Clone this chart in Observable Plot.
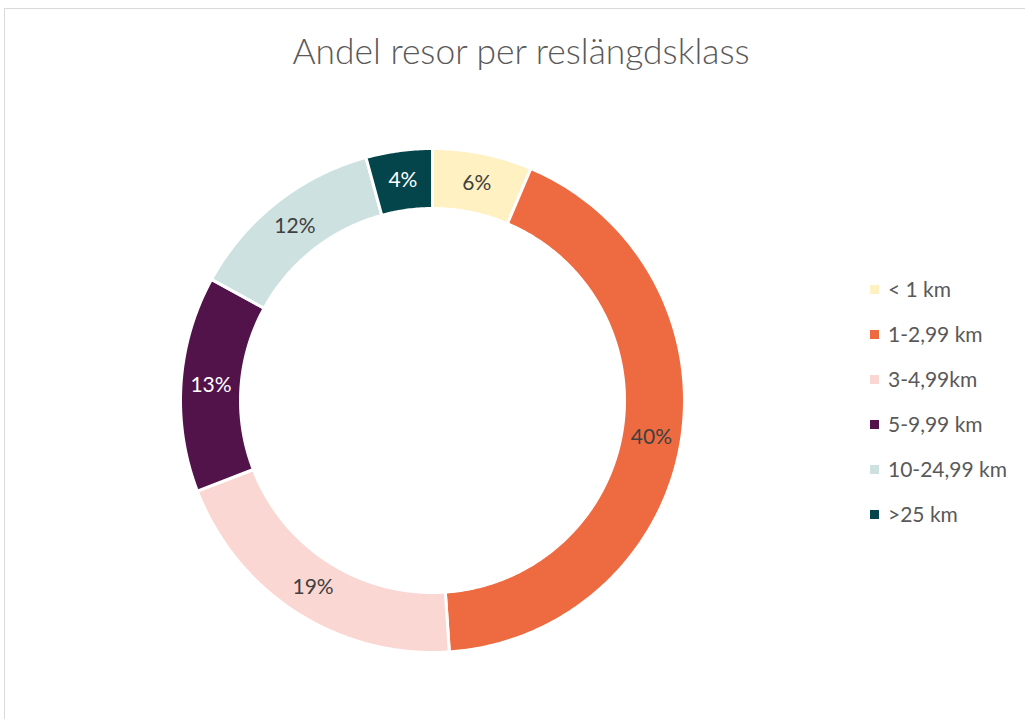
<!DOCTYPE html>
<html>
<head>
<meta charset="utf-8">
<script src="https://cdn.jsdelivr.net/npm/d3@7"></script>
<script src="https://cdn.jsdelivr.net/npm/@observablehq/plot@0.6"></script>
<style>
  html, body { margin: 0; padding: 0; background: #fff; }
  #wrap { position: relative; width: 1025px; height: 719px; overflow: hidden; background: #fff; }
  #frame { position: absolute; left: 4px; top: 8px; width: 1200px; height: 900px; border: 1.5px solid #d9d9d9; box-sizing: border-box; }
  #title { position: absolute; left: 0; top: 0; width: 1042px; height: 100px; line-height: 102px; text-align: center;
           font-family: Lato, "Open Sans", sans-serif; font-size: 35.4px; color: #595959; font-weight: 300; }
  #chart { position: absolute; left: 0; top: 100px; }
  #legend { position: absolute; left: 870px; top: 276px; font-family: Lato, "Open Sans", sans-serif; font-size: 21px; color: #595959; }
  .item { height: 45px; display: flex; align-items: flex-start; }
  .sw { width: 9px; height: 9px; margin-top: 9px; margin-right: 9px; }
</style>
</head>
<body>
<div id="wrap">
  <div id="frame"></div>
  <div id="title">Andel resor per reslängdsklass</div>
  <div id="chart"></div>
  <div id="legend"></div>
</div>
<script>
const categories = ["< 1 km", "1-2,99 km", "3-4,99km", "5-9,99 km", "10-24,99 km", ">25 km"];
const values = [6, 40, 19, 13, 12, 4];
const colors = ["#FFF1C1", "#EE6A40", "#FAD7D2", "#52134B", "#CCE1E0", "#03454A"];
const labelColors = ["#404040", "#404040", "#404040", "#ffffff", "#404040", "#ffffff"];

const W = 1025, H = 619;
const cx = 432, cy = 300, R = 252;
const inner = 192 / 252;

const rows = categories.map((c, i) => ({cat: c, value: values[i], i}));
const arcs = d3.pie().sort(null).value(d => d.value)(rows);

const poly = [];
const labels = [];
for (const a of arcs) {
  const n = Math.max(8, Math.ceil((a.endAngle - a.startAngle) / 0.01));
  for (let k = 0; k <= n; k++) {
    const t = a.startAngle + (a.endAngle - a.startAngle) * k / n;
    poly.push({cat: a.data.cat, x: Math.sin(t), y: Math.cos(t)});
  }
  for (let k = n; k >= 0; k--) {
    const t = a.startAngle + (a.endAngle - a.startAngle) * k / n;
    poly.push({cat: a.data.cat, x: inner * Math.sin(t), y: inner * Math.cos(t)});
  }
  const m = (a.startAngle + a.endAngle) / 2;
  const rm = (1 + inner) / 2;
  labels.push({cat: a.data.cat, x: rm * Math.sin(m), y: rm * Math.cos(m),
               text: a.data.value + "%", color: labelColors[a.data.i]});
}

const plot = Plot.plot({
  width: W, height: H,
  marginTop: 0, marginBottom: 0, marginLeft: 0, marginRight: 0,
  x: {type: "linear", domain: [-1, 1], range: [cx - R, cx + R], axis: null},
  y: {type: "linear", domain: [-1, 1], range: [cy + R, cy - R], axis: null},
  color: {domain: categories, range: colors},
  style: {fontFamily: "Lato, 'Open Sans', sans-serif", background: "transparent"},
  marks: [
    Plot.line(poly, {x: "x", y: "y", z: "cat", fill: "cat", stroke: "#ffffff", strokeWidth: 3, curve: "linear-closed"}),
    Plot.text(labels.filter(d => d.color === "#ffffff"), {x: "x", y: "y", text: "text", fill: "#ffffff", fontSize: 21}),
    Plot.text(labels.filter(d => d.color !== "#ffffff"), {x: "x", y: "y", text: "text", fill: "#404040", fontSize: 21})
  ]
});
document.getElementById("chart").appendChild(plot);

const legend = document.getElementById("legend");
categories.forEach((c, i) => {
  const item = document.createElement("div");
  item.className = "item";
  const sw = document.createElement("div");
  sw.className = "sw";
  sw.style.background = colors[i];
  const lab = document.createElement("span");
  lab.textContent = c;
  item.appendChild(sw);
  item.appendChild(lab);
  legend.appendChild(item);
});
</script>
</body>
</html>
